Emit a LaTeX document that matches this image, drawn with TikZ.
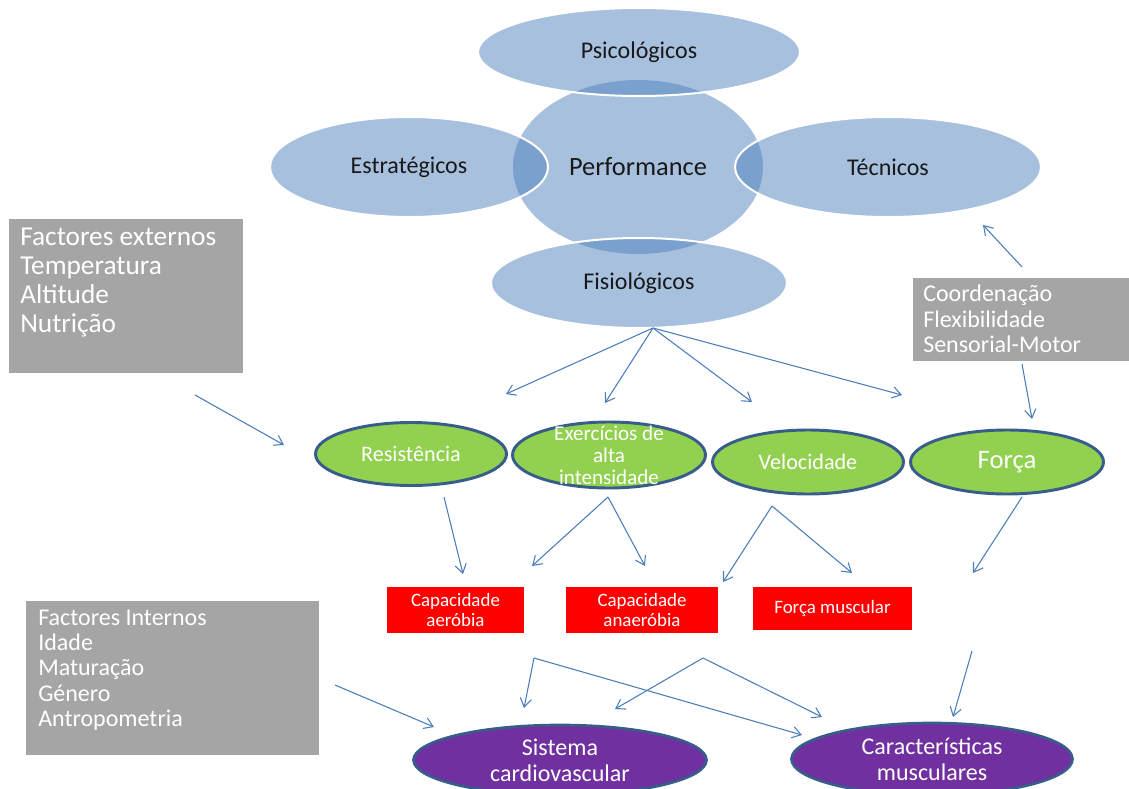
\documentclass[tikz,border=0pt]{standalone}
\usepackage{fontspec}
\setmainfont{Carlito}
\definecolor{myblue}{HTML}{4F81BD}
\definecolor{myarrow}{HTML}{4A7EBB}
\definecolor{mygray}{HTML}{A5A5A5}
\definecolor{mygreen}{HTML}{92D050}
\definecolor{myedge}{HTML}{385D8A}
\definecolor{mypurple}{HTML}{7030A0}
\definecolor{myred}{HTML}{FF0000}
\usetikzlibrary{shapes.geometric, arrows.meta, positioning}
\tikzset{
	bluenode/.style={
			ellipse,
			fill=myblue,
			fill opacity=0.5,
			text opacity=1,
			draw=white,
			line width=1.5pt,
			inner sep=0pt,
			text=black!90,
			font=\fontsize{18}{20}\selectfont
		},
	perfnode/.style={
			bluenode,
			draw=none,
			font=\fontsize{19.8}{22}\selectfont
		},
	greennode/.style={
			ellipse,
			fill=mygreen,
			draw=myedge,
			line width=2.2pt,
			inner sep=0pt,
			text=white,
			font=\fontsize{16.6}{18}\selectfont
		},
	purplenode/.style={
			greennode,
			fill=mypurple,
			line width=2pt
		},
	overtext/.style={
			text=white,
			align=center,
			inner sep=0pt
		},
	redbox/.style={
			rectangle,
			fill=myred,
			inner sep=0pt,
			text=white,
			align=center,
			font=\fontsize{14.2}{14.4}\selectfont
		},
	graybox/.style={
			rectangle,
			fill=mygray,
			inner sep=0pt
		},
	graytext/.style={
			text=white,
			align=left,
			inner sep=0pt,
			anchor=north west
		},
	arr/.style={
			draw=myarrow,
			line width=0.8pt,
			-{Straight Barb[length=6.5pt,width=8.5pt]}
		}
}

\begin{document}
\begin{tikzpicture}[x=0.75pt, y=-0.75pt]
\clip (0,0) rectangle (1129,789);

% performance cluster
\node[perfnode, minimum width=187.5pt, minimum height=130.5pt] (perf) at (638,167) {Performance};
\node[bluenode, minimum width=241.5pt, minimum height=66pt] (psic) at (639,52) {Psicológicos};
\node[bluenode, minimum width=208.5pt, minimum height=75pt] (estr) at (409,167) {Estratégicos};
\node[bluenode, minimum width=229.5pt, minimum height=75pt] (tecn) at (888,167) {Técnicos};
\node[bluenode, minimum width=222pt, minimum height=67.5pt] (fisi) at (639,283) {Fisiológicos};

% grey boxes
\node[graybox, minimum width=175.5pt, minimum height=115.5pt] (ext) at (126,296) {};
\node[graytext, font=\fontsize{20.5}{21.75}\selectfont] (extT) at (20,228) {Factores externos\\Temperatura\\Altitude\\Nutrição};
\node[graybox, minimum width=162pt, minimum height=62.25pt] (coor) at (1021,319.5) {};
\node[graytext, font=\fontsize{18}{19.1}\selectfont] (coorT) at (923,285) {Coordenação\\Flexibilidade\\Sensorial-Motor};
\node[graybox, minimum width=219.75pt, minimum height=115.5pt] (int) at (172.5,678) {};
\node[graytext, font=\fontsize{18}{19}\selectfont] (intT) at (38,609.5) {Factores Internos\\Idade\\Maturação\\Género\\Antropometria};

% green ellipses
\node[greennode, minimum width=143.25pt, minimum height=47.25pt] (resi) at (411,454) {Resistência};
\node[greennode, minimum width=144.75pt, minimum height=49.5pt] (exer) at (609,455) {};
\node[overtext, font=\fontsize{15.8}{16.5}\selectfont] (exerT) at (exer) {Exercícios de\\alta\\intensidade};
\node[greennode, minimum width=143.25pt, minimum height=48pt] (velo) at (808,462) {Velocidade};
\node[greennode, minimum width=144.75pt, minimum height=48pt, font=\fontsize{20}{22}\selectfont] (forc) at (1007,462) {Força};

% red boxes
\node[redbox, minimum width=102.75pt, minimum height=34.5pt] (aer) at (455.5,610) {Capacidade\\aeróbia};
\node[redbox, minimum width=114pt, minimum height=34.5pt] (anaer) at (642,610) {Capacidade\\anaeróbia};
\node[redbox, minimum width=119.25pt, minimum height=32.25pt] (fmus) at (832.5,608.5) {Força muscular};

% purple ellipses
\node[purplenode, minimum width=219.75pt, minimum height=52.5pt] (card) at (560,760) {};
\node[overtext, font=\fontsize{18}{19.5}\selectfont] (cardT) at (card) {Sistema\\cardiovascular};
\node[purplenode, minimum width=210.75pt, minimum height=54pt] (musc) at (932,759) {};
\node[overtext, font=\fontsize{18}{19.5}\selectfont] (muscT) at (musc) {Características\\musculares};

% free arrow ends
\coordinate (fO) at (653,328);
\coordinate (fA) at (506,394);
\coordinate (fB) at (605,403);
\coordinate (fC) at (752,402);
\coordinate (fD) at (902,395);
\coordinate (tO) at (1022,267);
\coordinate (tA) at (983,225);
\coordinate (cO) at (1022,364);
\coordinate (cA) at (1032,419);
\coordinate (eO) at (195,395);
\coordinate (eA) at (284,445);
\coordinate (rO) at (444,497);
\coordinate (rA) at (463,574);
\coordinate (xO) at (608,497);
\coordinate (xA) at (532,566);
\coordinate (xB) at (645,566);
\coordinate (vO) at (772,506);
\coordinate (vA) at (723,582);
\coordinate (vB) at (852,573);
\coordinate (gO) at (1022,497);
\coordinate (gA) at (973,573);
\coordinate (aO) at (534,658);
\coordinate (aA) at (524,708);
\coordinate (aB) at (802,735);
\coordinate (nO) at (703,658);
\coordinate (nA) at (615,709);
\coordinate (nB) at (822,717);
\coordinate (mO) at (972,651);
\coordinate (mA) at (953,717);
\coordinate (iO) at (335,685);
\coordinate (iA) at (434,727);

\draw[arr] (fO) -- (fA);
\draw[arr] (fO) -- (fB);
\draw[arr] (fO) -- (fC);
\draw[arr] (fO) -- (fD);
\draw[arr] (tO) -- (tA);
\draw[arr] (cO) -- (cA);
\draw[arr] (eO) -- (eA);
\draw[arr] (rO) -- (rA);
\draw[arr] (xO) -- (xA);
\draw[arr] (xO) -- (xB);
\draw[arr] (vO) -- (vA);
\draw[arr] (vO) -- (vB);
\draw[arr] (gO) -- (gA);
\draw[arr] (aO) -- (aA);
\draw[arr] (aO) -- (aB);
\draw[arr] (nO) -- (nA);
\draw[arr] (nO) -- (nB);
\draw[arr] (mO) -- (mA);
\draw[arr] (iO) -- (iA);

\end{tikzpicture}
\end{document}
